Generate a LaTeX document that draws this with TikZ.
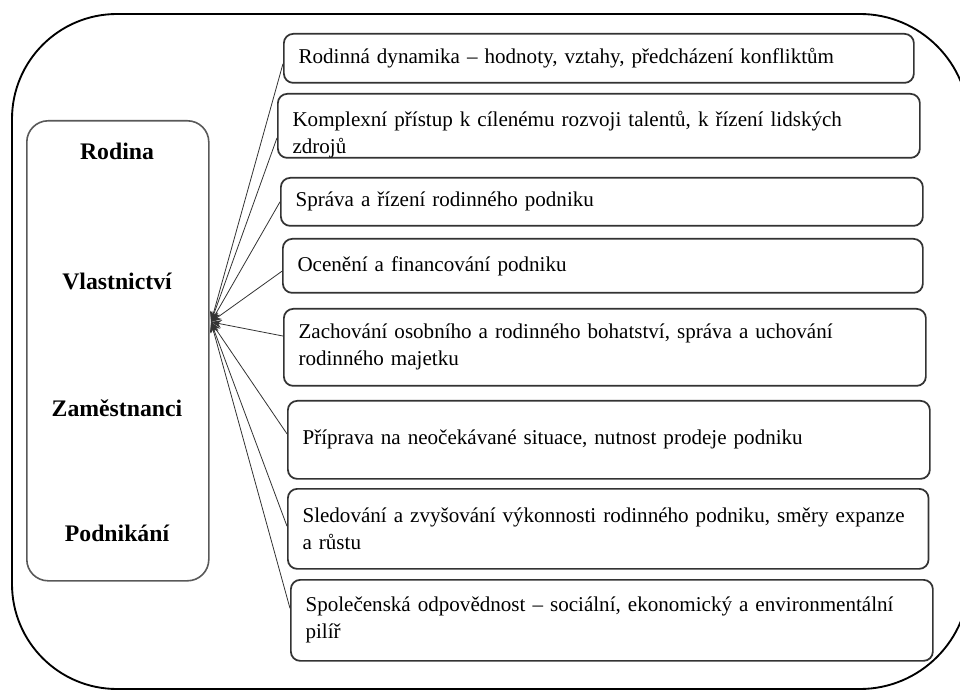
\documentclass[tikz,border=0pt]{standalone}
\usepackage{fontspec}
\setmainfont{Liberation Serif}
\usetikzlibrary{arrows.meta,positioning}
\tikzset{
  topic/.style={draw=black!80, line width=1.3pt, rounded corners=7pt, anchor=north west, align=left,
    inner xsep=11pt, inner ysep=2pt, font=\fontsize{15.8}{20.3}\selectfont},
  pillar/.style={font=\bfseries\fontsize{17.8}{20}\selectfont},
  link/.style={-{Stealth[length=8pt,width=6pt]}, line width=0.6pt, black!80}
}

\begin{document}
\begin{tikzpicture}[x=0.75pt,y=-0.75pt]
\useasboundingbox (0,0) rectangle (960,691);
\clip (0,0) rectangle (960,691);
\draw[line width=1.4pt] (969,123) .. controls (969,63) and (920,14) .. (860,14) -- (117,14)
  .. controls (59,14) and (12,61) .. (12,119) -- (12,584) .. controls (12,642) and (59,689) .. (117,689)
  -- (860,689) .. controls (920,689) and (969,640) .. (969,580);

\node[draw=black!65, line width=1.2pt, rounded corners=16pt, anchor=north west, minimum width=136.5pt, minimum height=345pt] (owner) at (26,120) {};
\node[pillar] (rodina) at (117,151) {Rodina};
\node[pillar] (vlast) at (117,281) {Vlastnictví};
\node[pillar] (zam) at (117,408) {Zaměstnanci};
\node[pillar] (podn) at (117,533) {Podnikání};
\coordinate (hub) at (211,322);

\node[topic, text width=450.5pt, minimum height=36.75pt] (t1) at (283,33) {Rodinná dynamika – hodnoty, vztahy, předcházení konfliktům};
\node[topic, text width=459.5pt, minimum height=48pt, text depth=10pt] (t2) at (277,93) {Komplexní přístup k cílenému rozvoji talentů, k řízení lidských\\zdrojů};
\node[topic, text width=459.5pt, minimum height=36pt] (t3) at (280,177) {Správa a řízení rodinného podniku};
\node[topic, text width=458pt, minimum height=40.5pt] (t4) at (282,238) {Ocenění a financování podniku};
\node[topic, text width=459.5pt, minimum height=57.75pt] (t5) at (283,308) {Zachování osobního a rodinného bohatství, správa a uchování\\rodinného majetku};
\node[topic, text width=459.5pt, minimum height=58.5pt] (t6) at (287,400) {Příprava na neočekávané situace, nutnost prodeje podniku};
\node[topic, text width=458.5pt, minimum height=60pt] (t7) at (287,488) {Sledování a zvyšování výkonnosti rodinného podniku, směry expanze\\a růstu};
\node[topic, text width=459.5pt, minimum height=60.75pt] (t8) at (290,579) {Společenská odpovědnost – sociální, ekonomický a environmentální\\pilíř};

\foreach \t/\d in {t1/-4pt,t2/-9pt,t3/0pt,t4/-4pt,t5/8.5pt,t6/4.5pt,t7/2pt,t8/9pt}
  \draw[link] ([yshift=\d]\t.west) -- (hub);
\end{tikzpicture}
\end{document}
